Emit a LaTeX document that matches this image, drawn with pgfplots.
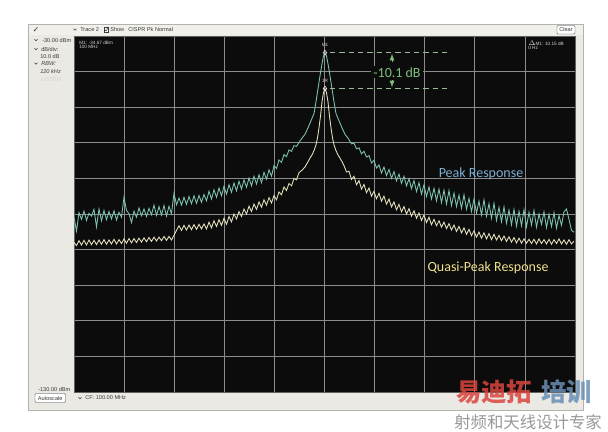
\documentclass[border=0pt]{standalone}
\usepackage{fontspec}
\usepackage{pgfplots}
\usepackage{pgfplotstable}
\pgfplotsset{compat=1.18}
\setmainfont{Liberation Sans}
\newfontfamily\carlito{Carlito}
\newfontfamily\cjk{Noto Sans CJK SC}
\newfontfamily\dejavu{DejaVu Sans}

\definecolor{panel}{HTML}{EAE9E3}
\definecolor{toolbar}{HTML}{F1F0EB}
\definecolor{uitext}{HTML}{3A3A3A}
\definecolor{scopebg}{HTML}{0C0C0C}
\definecolor{gridgray}{HTML}{8C8C8C}
\definecolor{peakcol}{HTML}{7DC3B3}
\definecolor{qpcol}{HTML}{E6E2BE}
\definecolor{peaklbl}{HTML}{7BAFD4}
\definecolor{qplbl}{HTML}{EFE08A}
\definecolor{deltagreen}{HTML}{7DBF7D}
\definecolor{dashgreen}{HTML}{9DB89B}
\definecolor{readout}{HTML}{D4D4D4}
\definecolor{logored}{HTML}{D9453E}
\definecolor{logoblue}{HTML}{6B8FB5}

\newcommand{\ui}{\fontsize{4.2}{5}\selectfont}
\newcommand{\scr}{\fontsize{3.5}{4.2}\selectfont}

% sweep index (0..500) vs dBm
\pgfplotstableread{
x y
0 -80.9
2.5 -84.8
5 -79.6
7.5 -81.5
10 -79.2
12.5 -81.8
15 -79.8
17.5 -80.6
20 -78.7
22.5 -83.6
25 -78.6
27.5 -81.9
30 -79.0
32.5 -81.6
35 -79.3
37.5 -81.4
40 -79.1
42.5 -81.7
45 -79.5
47.5 -80.9
50 -75.3
52.5 -79.0
55 -79.9
57.5 -82.4
60 -79.2
62.5 -80.9
65 -78.3
67.5 -80.5
70 -78.6
72.5 -80.7
75 -78.4
77.5 -80.2
80 -77.5
82.5 -80.4
85 -77.9
87.5 -80.3
90 -77.6
92.5 -80.6
95 -77.8
97.5 -79.9
100 -74.2
102.5 -77.4
105 -75.5
107.5 -77.5
110 -75.3
112.5 -77.3
115 -75.1
117.5 -77.1
120 -74.9
122.5 -77.0
125 -74.8
127.5 -76.7
130 -74.5
132.5 -76.3
135 -73.6
137.5 -75.8
140 -73.2
142.5 -75.3
145 -72.7
147.5 -74.9
150 -72.2
152.5 -74.4
155 -71.8
157.5 -73.9
160 -71.3
162.5 -73.5
165 -70.8
167.5 -73.0
170 -70.4
172.5 -72.5
175 -69.9
177.5 -72.1
180 -69.4
182.5 -71.6
185 -69.0
187.5 -71.2
190 -68.3
192.5 -70.2
195 -67.6
197.5 -69.4
200 -66.4
202.5 -67.2
205 -64.8
207.5 -65.5
210 -63.3
212.5 -63.9
215 -62.0
217.5 -62.4
220 -60.8
222.5 -61.0
225 -59.9
228 -58.7
231 -57.6
234 -55.8
237 -53.8
240 -51.8
242 -48.5
244 -44.8
246 -41.2
248 -37.8
249.5 -35.6
251 -34.67
252.5 -35.6
254 -37.8
256 -41.2
258 -44.8
260 -48.5
262 -51.8
265 -53.8
268 -55.8
271 -57.6
274 -58.7
277.5 -60.3
280 -60.1
282.5 -61.7
285 -61.4
287.5 -63.1
290 -62.4
292.5 -64.0
295 -63.6
297.5 -65.7
300 -64.9
302.5 -67.1
305 -66.2
307.5 -68.5
310 -66.8
312.5 -69.2
315 -67.5
317.5 -70.0
320 -68.1
322.5 -70.7
325 -68.8
327.5 -71.4
330 -69.4
332.5 -72.1
335 -70.1
337.5 -72.9
340 -70.6
342.5 -73.7
345 -71.2
347.5 -74.4
350 -71.8
352.5 -75.1
355 -72.4
357.5 -75.8
360 -72.8
362.5 -76.3
365 -73.0
367.5 -76.8
370 -73.3
372.5 -77.2
375 -73.4
377.5 -77.6
380 -74.1
382.5 -77.9
385 -74.7
387.5 -78.4
390 -74.6
392.5 -78.7
395 -75.6
397.5 -79.3
400 -75.8
402.5 -79.7
405 -76.4
407.5 -80.3
410 -76.0
412.5 -80.6
415 -77.1
417.5 -81.2
420 -77.0
422.5 -81.8
425 -78.1
427.5 -82.2
430 -78.0
432.5 -82.6
435 -78.9
437.5 -83.0
440 -78.7
442.5 -83.4
445 -79.2
447.5 -83.3
450 -78.8
452.5 -83.6
455 -79.5
457.5 -83.1
460 -79.0
462.5 -83.7
465 -80.0
467.5 -82.9
470 -79.4
472.5 -83.8
475 -80.1
477.5 -83.5
480 -79.6
482.5 -84.0
485 -80.4
487.5 -83.2
490 -79.4
492.5 -78.6
495 -81.5
497.5 -84.6
500 -85.1
}\peaktrace

\pgfplotstableread{
x y
0 -88.0
2.5 -88.9
5 -87.5
7.5 -88.7
10 -87.4
12.5 -88.7
15 -87.3
17.5 -88.6
20 -87.4
22.5 -88.6
25 -87.3
27.5 -88.5
30 -87.2
32.5 -88.5
35 -87.3
37.5 -88.4
40 -87.1
42.5 -88.4
45 -87.2
47.5 -88.3
50 -87.0
52.5 -88.2
55 -86.9
57.5 -88.1
60 -86.9
62.5 -88.0
65 -86.8
67.5 -87.9
70 -86.7
72.5 -87.8
75 -86.6
77.5 -87.7
80 -86.5
82.5 -87.6
85 -86.5
87.5 -87.5
90 -86.3
92.5 -87.4
95 -86.3
97.5 -87.3
100 -86.0
102.5 -84.6
105 -83.3
107.5 -84.6
110 -83.2
112.5 -84.5
115 -83.1
117.5 -84.4
120 -83.0
122.5 -84.3
125 -82.9
127.5 -84.2
130 -82.8
132.5 -84.2
135 -82.3
137.5 -83.9
140 -81.9
142.5 -83.5
145 -81.6
147.5 -83.2
150 -81.2
152.5 -82.9
155 -80.7
157.5 -82.2
160 -80.0
162.5 -81.4
165 -79.3
167.5 -80.7
170 -78.6
172.5 -80.0
175 -77.8
177.5 -79.3
180 -77.2
182.5 -78.7
185 -76.6
187.5 -78.1
190 -76.0
192.5 -77.5
195 -75.4
197.5 -76.9
200 -74.8
202.5 -76.0
205 -73.8
207.5 -74.6
210 -72.4
212.5 -73.4
215 -71.4
217.5 -72.1
220 -70.0
222.5 -70.4
225 -68.4
228 -67.7
231 -66.8
234 -65.3
236 -64.3
238 -63.4
240 -62.2
242 -60.6
243.5 -58.6
245 -55.8
246.5 -52.5
248 -48.5
249.5 -45.9
251 -44.77
252.5 -45.9
254 -48.5
255.5 -52.5
257 -55.8
258.5 -58.6
260 -60.6
262 -62.2
264 -63.4
266 -64.3
268 -65.3
270 -66.4
272.5 -68.2
275 -68.0
277.5 -70.3
280 -69.4
282.5 -71.8
285 -70.6
287.5 -73.0
290 -71.7
292.5 -74.0
295 -72.7
297.5 -75.0
300 -73.6
302.5 -75.7
305 -74.2
307.5 -76.4
310 -75.0
312.5 -77.2
315 -75.8
317.5 -78.0
320 -76.6
322.5 -78.8
325 -77.3
327.5 -79.4
330 -77.9
332.5 -80.0
335 -78.5
337.5 -80.6
340 -79.1
342.5 -81.2
345 -79.7
347.5 -81.8
350 -80.3
352.5 -82.4
355 -80.9
357.5 -83.0
360 -81.5
362.5 -83.3
365 -81.9
367.5 -83.7
370 -82.3
372.5 -84.1
375 -82.7
377.5 -84.5
380 -83.1
382.5 -84.9
385 -83.5
387.5 -85.3
390 -83.9
392.5 -85.7
395 -84.3
397.5 -86.1
400 -84.7
402.5 -86.5
405 -85.1
407.5 -86.8
410 -85.3
412.5 -87.0
415 -85.5
417.5 -87.2
420 -85.7
422.5 -87.3
425 -86.0
427.5 -87.5
430 -86.2
432.5 -87.7
435 -86.4
437.5 -87.9
440 -86.6
442.5 -88.1
445 -86.8
447.5 -88.2
450 -87.0
452.5 -88.2
455 -87.1
457.5 -88.3
460 -87.1
462.5 -88.4
465 -87.0
467.5 -88.3
470 -87.2
472.5 -88.4
475 -87.1
477.5 -88.5
480 -87.2
482.5 -88.3
485 -87.0
487.5 -88.4
490 -87.3
492.5 -88.5
495 -87.2
497.5 -88.4
500 -87.6
}\qptrace

\begin{document}
\begin{tikzpicture}
% screen furniture, in pixel units (y down)
\begin{scope}[x=0.75pt,y=-0.75pt]
  \fill[white] (0,0) rectangle (608,432);
  \fill[panel] (28,24) rectangle (583,410);
  \fill[toolbar] (28,24) rectangle (583,35);
  \draw[gray!60, line width=0.3pt] (28,24) rectangle (583,410);
  \tikzset{ui/.style={font=\ui, text=uitext, inner sep=0, anchor=west}}
  % toolbar
  \node[font=\dejavu\fontsize{6}{7}\selectfont, text=uitext, inner sep=0] at (36,29.5) {✓};
  \draw[uitext, line width=0.35pt] (73.5,28.7) -- (75,30.3) -- (76.5,28.7);
  \node[ui] at (80,29.5) {Trace 2};
  \draw[uitext, line width=0.3pt, fill=white] (104,27.3) rectangle (108.5,31.8);
  \draw[uitext, line width=0.4pt] (104.8,29.6) -- (106,31) -- (107.9,28.1);
  \node[ui] at (110,29.5) {Show};
  \node[ui] at (128,29.5) {CISPR Pk Normal};
  \draw[uitext, line width=0.3pt, fill=white, rounded corners=0.8pt] (557,25.5) rectangle (575,34);
  \node[font=\ui, text=uitext, inner sep=0] at (566,29.8) {Clear};
  % left column
  \draw[uitext, line width=0.35pt] (34.5,39.2) -- (36,40.8) -- (37.5,39.2);
  \node[ui] at (42,40) {-30.00 dBm};
  \draw[uitext, line width=0.35pt] (34.5,48.2) -- (36,49.8) -- (37.5,48.2);
  \node[ui] at (41,49) {dB/div:};
  \node[ui] at (40,56.5) {10.0 dB};
  \draw[uitext, line width=0.35pt] (34.5,62.7) -- (36,64.3) -- (37.5,62.7);
  \node[ui] at (41,63.5) {\itshape RBW:};
  \node[ui] at (40,71.5) {\itshape 120 kHz};
  \node[ui, text=gray!35] at (41,79.5) {LISTEN};
  % bottom
  \node[ui] at (38,389) {-130.00 dBm};
  \draw[uitext, line width=0.3pt, fill=white, rounded corners=0.8pt] (35,393.5) rectangle (65.5,402.5);
  \node[font=\ui, text=uitext, inner sep=0] at (50.2,398.2) {Autoscale};
  \draw[uitext, line width=0.35pt] (78.5,397.2) -- (80,398.8) -- (81.5,397.2);
  \node[ui] at (85,398) {CF: 100.00 MHz};
\end{scope}

\begin{axis}[
  at={(55.5pt,-294pt)}, anchor=south west,
  scale only axis, width=375.75pt, height=267pt,
  xmin=0, xmax=501, ymin=-130, ymax=-30,
  xtick={50.1,100.2,150.3,200.4,250.5,300.6,350.7,400.8,450.9},
  ytick={-120,-110,...,-40},
  xticklabels={}, yticklabels={},
  major tick length=0pt,
  grid=major,
  major grid style={draw=gridgray, line width=0.55pt},
  axis line style={draw=gridgray!70!black, line width=0.4pt},
  axis background/.style={fill=scopebg},
]
\addplot[peakcol, line width=0.65pt] table {\peaktrace};
\addplot[qpcol, line width=0.65pt] table {\qptrace};
% markers M1 and the reference marker
\addplot[only marks, mark=diamond, mark size=1.8pt, mark options={draw=white!85!gray, fill=none, line width=0.4pt}]
  coordinates {(251,-34.67) (251,-44.77)};
\node[font=\scr, text=readout, inner sep=0] at (axis cs:251,-32.4) {M1};
\node[font=\scr, text=readout, inner sep=0] at (axis cs:251,-42.6) {1R};
% delta annotation
\draw[dashgreen, line width=0.8pt, dash pattern=on 4pt off 3pt] (axis cs:256,-34.67) -- (axis cs:376,-34.67);
\draw[dashgreen, line width=0.8pt, dash pattern=on 4pt off 3pt] (axis cs:256,-44.77) -- (axis cs:376,-44.77);
\node[font=\carlito\fontsize{10.5}{12}\selectfont, text=deltagreen, fill=scopebg, inner xsep=1.5pt, inner ysep=0.8pt] at (axis cs:323,-40.2) {-10.1 dB};
\draw[deltagreen, line width=0.7pt, -latex] (axis cs:318,-37.3) -- (axis cs:318,-35.0);
\draw[deltagreen, line width=0.7pt, -latex] (axis cs:318,-42.4) -- (axis cs:318,-44.4);
% trace labels
\node[font=\carlito\fontsize{10.5}{12}\selectfont, text=peaklbl, inner sep=0] at (axis cs:407,-68.6) {Peak Response};
\node[font=\carlito\fontsize{10.5}{12}\selectfont, text=qplbl, inner sep=0] at (axis cs:414,-95.2) {Quasi-Peak Response};
\end{axis}

\begin{scope}[x=0.75pt,y=-0.75pt]
  % marker readouts inside the screen
  \node[font=\scr, text=readout, inner sep=0, anchor=west] at (79,42.6) {M1: -34.67 dBm};
  \node[font=\scr, text=readout, inner sep=0, anchor=west] at (79,47.3) {100 MHz};
  \node[font=\scr, text=readout, inner sep=0, anchor=west] at (528,43) {$\Delta$M1: 10.15 dB};
  \node[font=\scr, text=readout, inner sep=0, anchor=west] at (528,47.7) {0 Hz};
  % watermark
  \node[font=\cjk\bfseries\fontsize{19}{20}\selectfont, text=logored, opacity=0.85, inner sep=0, anchor=west] at (456,392) {易迪拓};
  \node[font=\cjk\bfseries\fontsize{19}{20}\selectfont, text=logoblue, opacity=0.85, inner sep=0, anchor=west] at (541,392) {培训};
  \node[font=\cjk\fontsize{12.3}{13}\selectfont, text=gray!80, inner sep=0, anchor=west] at (454,422) {射频和天线设计专家};
\end{scope}
\end{tikzpicture}
\end{document}
